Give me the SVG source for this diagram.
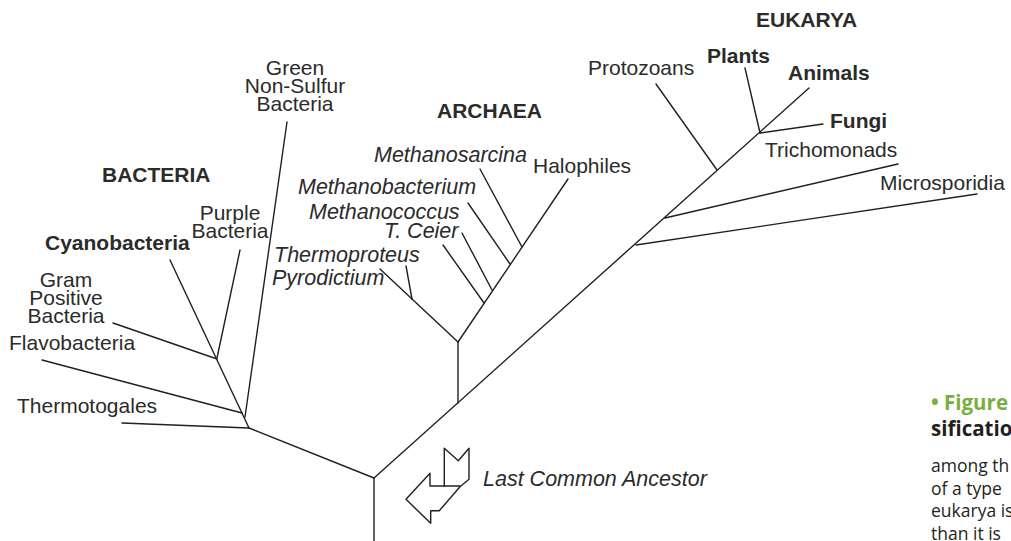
<svg xmlns="http://www.w3.org/2000/svg" width="1011" height="541" viewBox="0 0 1011 541">
<style>
.ln{stroke:#231f20;stroke-width:1.4;fill:none;stroke-linecap:round;stroke-linejoin:round}
text{font-family:"Liberation Sans",Arial,sans-serif;font-size:21px;fill:#2b2b2b}
.b{font-weight:bold}
.i{font-style:italic;font-size:21.5px}
.m{text-anchor:middle}
.cap{font-family:"Open Sans","Noto Sans",sans-serif;font-size:17.5px;fill:#231f20}
.caph{font-family:"Open Sans","Noto Sans",sans-serif;font-size:20.5px;font-weight:bold;fill:#231f20}
</style>
<rect width="1011" height="541" fill="#ffffff"/>
<g id="connectors" class="ln">
<line x1="374" y1="541" x2="374" y2="478"/>
<line x1="374" y1="478" x2="249" y2="428"/>
<line x1="374" y1="478" x2="809" y2="88"/>
<line x1="249" y1="428" x2="122" y2="423"/>
<line x1="249" y1="428" x2="170" y2="260"/>
<line x1="245" y1="417" x2="287" y2="122"/>
<line x1="242" y1="413" x2="42" y2="360"/>
<line x1="217" y1="359" x2="113" y2="323"/>
<line x1="217" y1="358" x2="240" y2="250"/>
<line x1="458" y1="403" x2="458" y2="342"/>
<line x1="458" y1="342" x2="412" y2="299"/>
<line x1="412" y1="299" x2="380" y2="269"/>
<line x1="412" y1="299" x2="406" y2="266"/>
<line x1="458" y1="342" x2="568" y2="179"/>
<line x1="484" y1="303" x2="443" y2="245"/>
<line x1="492" y1="290" x2="462" y2="233"/>
<line x1="510" y1="264" x2="468" y2="203"/>
<line x1="522" y1="247" x2="480" y2="169"/>
<line x1="636" y1="245" x2="977" y2="194"/>
<line x1="665" y1="218" x2="898" y2="164"/>
<line x1="717" y1="170" x2="656" y2="84"/>
<line x1="760" y1="133" x2="745" y2="68"/>
<line x1="760" y1="133" x2="823" y2="124"/>
<polygon points="444.3,448.3 458.3,460.7 469,448.3 469,479.3 460,486.7 439.3,510.7 430.7,510.7 430.7,523.3 406,499.3 430,473.3 430,486 444.3,486"/>
<line x1="444.3" y1="486" x2="460" y2="486"/>
</g>
<g id="label-bacteria"><text class="b" x="102" y="182">BACTERIA</text></g>
<g id="label-archaea"><text class="b" x="437" y="118">ARCHAEA</text></g>
<g id="label-eukarya"><text class="b" x="756" y="27">EUKARYA</text></g>
<g id="node-green-non-sulfur"><text class="m" x="295" y="75">Green</text><text class="m" x="295" y="93">Non-Sulfur</text><text class="m" x="295" y="111">Bacteria</text></g>
<g id="node-purple"><text class="m" x="230" y="220">Purple</text><text class="m" x="230" y="238">Bacteria</text></g>
<g id="node-cyanobacteria"><text class="b" x="45" y="250">Cyanobacteria</text></g>
<g id="node-gram-positive"><text class="m" x="66" y="287">Gram</text><text class="m" x="66" y="305">Positive</text><text class="m" x="66" y="323">Bacteria</text></g>
<g id="node-flavobacteria"><text x="9" y="350">Flavobacteria</text></g>
<g id="node-thermotogales"><text x="17" y="413">Thermotogales</text></g>
<g id="node-methanosarcina"><text class="i" x="374" y="162">Methanosarcina</text></g>
<g id="node-halophiles"><text x="533" y="173">Halophiles</text></g>
<g id="node-methanobacterium"><text class="i" x="298" y="194">Methanobacterium</text></g>
<g id="node-methanococcus"><text class="i" x="309" y="219">Methanococcus</text></g>
<g id="node-tceier"><text class="i" x="384" y="238">T. Ceier</text></g>
<g id="node-thermoproteus"><text class="i" x="274" y="262">Thermoproteus</text></g>
<g id="node-pyrodictium"><text class="i" x="272" y="285">Pyrodictium</text></g>
<g id="node-protozoans"><text x="588" y="75">Protozoans</text></g>
<g id="node-plants"><text class="b" x="707" y="63">Plants</text></g>
<g id="node-animals"><text class="b" x="788" y="80">Animals</text></g>
<g id="node-fungi"><text class="b" x="830" y="128">Fungi</text></g>
<g id="node-trichomonads"><text x="765" y="157">Trichomonads</text></g>
<g id="node-microsporidia"><text x="880" y="190">Microsporidia</text></g>
<g id="node-lca"><text class="i" x="483" y="486">Last Common Ancestor</text></g>
<g id="caption">
<text class="caph" x="931" y="410"><tspan fill="#7aae3f">• Figure</tspan></text>
<text class="caph" x="931" y="436">sification</text>
<text class="cap" x="931" y="472">among th</text>
<text class="cap" x="931" y="494.5">of a type</text>
<text class="cap" x="931" y="517">eukarya is</text>
<text class="cap" x="931" y="539.5">than it is</text>
</g>
</svg>
